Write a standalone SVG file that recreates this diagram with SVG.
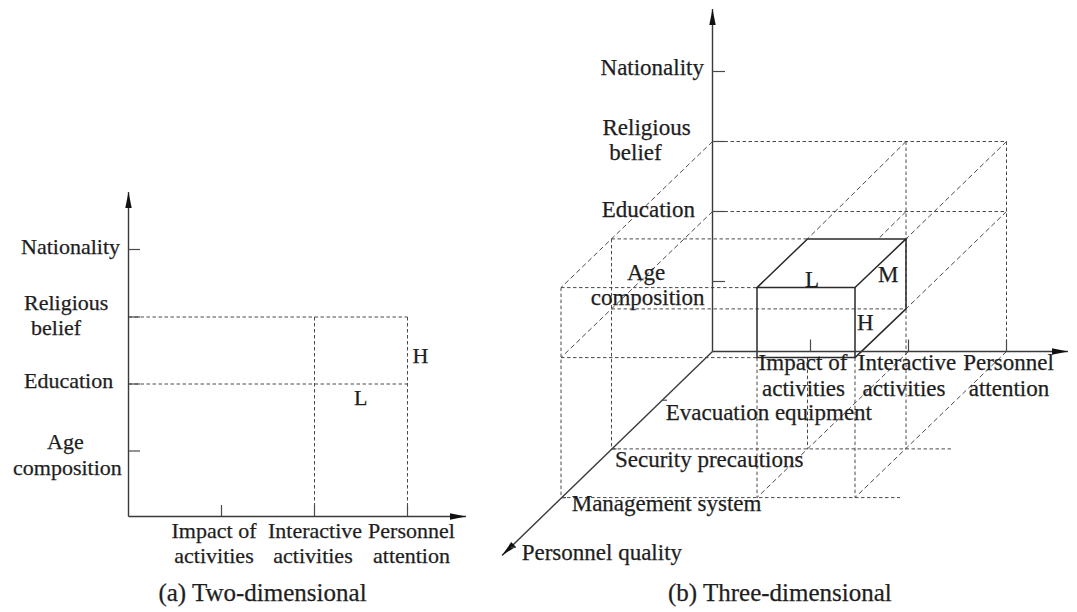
<svg xmlns="http://www.w3.org/2000/svg" width="1077" height="612" viewBox="0 0 1077 612">
<style>
text{font-family:"Liberation Serif","Times New Roman",serif;fill:#1e1e1e;stroke:#1e1e1e;stroke-width:0.25}
.a{font-size:22px}
.b{font-size:23px}
.cap{font-size:25px}
.m{text-anchor:middle}
.e{text-anchor:end}
.ax{stroke:#3a3a3a;stroke-width:1.4;fill:none}
.tk{stroke:#4a4a4a;stroke-width:1.2;fill:none}
.d{stroke:#4a4a4a;stroke-width:1;stroke-dasharray:3.5 2.5;fill:none}
.dg{stroke:#4a4a4a;stroke-width:1;stroke-dasharray:5 3;fill:none}
.s{stroke:#2a2a2a;stroke-width:1.5;fill:none}
</style>
<defs>
<marker id="arr" markerUnits="userSpaceOnUse" markerWidth="18" markerHeight="8" refX="16" refY="4" orient="auto">
<path d="M0,0.8 L16,4 L0,7.2 z" fill="#111"/>
</marker>
</defs>
<rect width="1077" height="612" fill="#fff"/>

<g id="panel-a">
<g id="grid-a">
<line class="d" x1="128.5" y1="317" x2="407.5" y2="317"/>
<line class="d" x1="128.5" y1="384" x2="407.5" y2="384"/>
<line class="d" x1="314.5" y1="317" x2="314.5" y2="516.5"/>
<line class="d" x1="407.5" y1="317" x2="407.5" y2="516.5"/>
</g>
<g id="axes-a">
<line class="ax" x1="128.5" y1="516.5" x2="128.5" y2="192" marker-end="url(#arr)"/>
<line class="ax" x1="128.5" y1="516.5" x2="466" y2="516.5" marker-end="url(#arr)"/>
<line class="tk" x1="128.5" y1="249.5" x2="140" y2="249.5"/>
<line class="tk" x1="128.5" y1="317" x2="140" y2="317"/>
<line class="tk" x1="128.5" y1="384" x2="140" y2="384"/>
<line class="tk" x1="128.5" y1="451" x2="140" y2="451"/>
<line class="tk" x1="221.5" y1="505" x2="221.5" y2="516.5"/>
<line class="tk" x1="314.5" y1="505" x2="314.5" y2="516.5"/>
<line class="tk" x1="407.5" y1="505" x2="407.5" y2="516.5"/>
</g>
<g id="labels-a">
<text class="a e" x="120" y="254">Nationality</text>
<text class="a" x="24" y="310">Religious</text>
<text class="a" x="31" y="335">belief</text>
<text class="a" x="24" y="388">Education</text>
<text class="a" x="47" y="449">Age</text>
<text class="a" x="13" y="475">composition</text>
<text class="a m" x="214" y="538">Impact of</text>
<text class="a m" x="214" y="563">activities</text>
<text class="a m" x="315" y="538">Interactive</text>
<text class="a m" x="313" y="563">activities</text>
<text class="a m" x="411.5" y="538">Personnel</text>
<text class="a m" x="411.5" y="563">attention</text>
<text class="a" x="412.5" y="362.5">H</text>
<text class="a" x="354" y="405">L</text>
<text class="cap m" x="262.5" y="601">(a) Two-dimensional</text>
</g>
</g>

<g id="panel-b">
<g id="grid-b">
<line class="d" x1="712.5" y1="141.5" x2="1006.5" y2="141.5"/>
<line class="d" x1="712.5" y1="211.5" x2="1006.5" y2="211.5"/>
<line class="d" x1="906" y1="141.5" x2="906" y2="448.9"/>
<line class="d" x1="1006.5" y1="141.5" x2="1006.5" y2="351.5"/>
<line class="dg" x1="712.5" y1="141.5" x2="561" y2="287.6"/>
<line class="dg" x1="712.5" y1="211.5" x2="561" y2="357.6"/>
<line class="dg" x1="906" y1="141.5" x2="807.5" y2="238.9"/>
<line class="dg" x1="1006.5" y1="141.5" x2="906" y2="238.9"/>
<line class="dg" x1="906" y1="211.5" x2="878.3" y2="238.9"/>
<line class="dg" x1="1006.5" y1="211.5" x2="906" y2="308.9"/>
<line class="dg" x1="908.5" y1="351.5" x2="757" y2="497.6"/>
<line class="dg" x1="1006.5" y1="351.5" x2="855" y2="497.6"/>
<line class="d" x1="611.5" y1="238.9" x2="807.5" y2="238.9"/>
<line class="d" x1="561" y1="287.6" x2="757" y2="287.6"/>
<line class="d" x1="611.5" y1="308.9" x2="906" y2="308.9"/>
<line class="d" x1="561" y1="357.6" x2="757" y2="357.6"/>
<line class="d" x1="611.5" y1="448.9" x2="951" y2="448.9"/>
<line class="d" x1="561" y1="497.6" x2="900" y2="497.6"/>
<line class="d" x1="611.5" y1="238.9" x2="611.5" y2="448.9"/>
<line class="d" x1="561" y1="287.6" x2="561" y2="497.6"/>
<line class="d" x1="807.5" y1="357.6" x2="807.5" y2="448.9"/>
<line class="d" x1="757" y1="357.6" x2="757" y2="497.6"/>
<line class="d" x1="855" y1="357.6" x2="855" y2="497.6"/>
</g>
<g id="cube">
<path class="s" d="M757,287.6 L807.5,238.9 L906,238.9 L855,287.6 Z"/>
<path class="s" d="M757,287.6 L757,357.6 L855,357.6 L855,287.6"/>
<path class="s" d="M906,238.9 L906,308.9 L855,357.6"/>
</g>
<g id="axes-b">
<line class="ax" x1="712.5" y1="351.5" x2="712.5" y2="9" marker-end="url(#arr)"/>
<line class="ax" x1="712.5" y1="351.5" x2="1068" y2="351.5" marker-end="url(#arr)"/>
<line class="ax" x1="712.5" y1="351.5" x2="502" y2="555.5" marker-end="url(#arr)"/>
<line class="tk" x1="712.5" y1="71.5" x2="725" y2="71.5"/>
<line class="tk" x1="712.5" y1="141.5" x2="725" y2="141.5"/>
<line class="tk" x1="712.5" y1="211.5" x2="725" y2="211.5"/>
<line class="tk" x1="712.5" y1="281.5" x2="725" y2="281.5"/>
<line class="tk" x1="810.5" y1="339.5" x2="810.5" y2="351.5"/>
<line class="tk" x1="908.5" y1="339.5" x2="908.5" y2="351.5"/>
<line class="tk" x1="1006.5" y1="339.5" x2="1006.5" y2="351.5"/>
<line class="tk" x1="662" y1="400.2" x2="667" y2="400.2"/>
<line class="tk" x1="611.5" y1="448.9" x2="616.5" y2="448.9"/>
<line class="tk" x1="561" y1="497.6" x2="566" y2="497.6"/>
<line class="tk" x1="511" y1="547.3" x2="516" y2="547.3"/>
</g>
<g id="labels-b">
<text class="b e" x="704" y="75">Nationality</text>
<text class="b" x="602.5" y="135">Religious</text>
<text class="b" x="609.3" y="160">belief</text>
<text class="b" x="601.7" y="216.7">Education</text>
<text class="b" x="627" y="280">Age</text>
<text class="b" x="590.7" y="305">composition</text>
<text class="b m" x="803" y="370">Impact of</text>
<text class="b m" x="803.5" y="395.7">activities</text>
<text class="b m" x="907" y="370">Interactive</text>
<text class="b m" x="904" y="395.7">activities</text>
<text class="b m" x="1008.5" y="370">Personnel</text>
<text class="b m" x="1009" y="395.7">attention</text>
<text class="b" x="665.7" y="420">Evacuation equipment</text>
<text class="b" x="615" y="467">Security precautions</text>
<text class="b" x="571.7" y="511">Management system</text>
<text class="b" x="521.7" y="560">Personnel quality</text>
<text class="b" x="805" y="286.7">L</text>
<text class="b" x="878" y="281.7">M</text>
<text class="b" x="857" y="330">H</text>
<text class="cap" x="668" y="601">(b) Three-dimensional</text>
</g>
</g>
</svg>
